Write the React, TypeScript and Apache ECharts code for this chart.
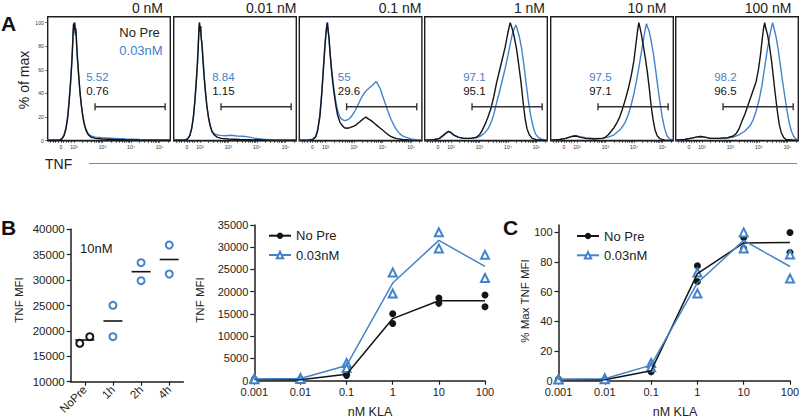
import React, { useEffect, useRef } from 'react';
import * as echarts from 'echarts';

const FONT = '"Liberation Sans", Arial, Helvetica, sans-serif';
const BLUE = '#4283cc';
const BLACK = '#141414';

// ---------- Panel A: flow histograms (x in display decades, y = % of max) ----------
const concLabels = ['0 nM', '0.01 nM', '0.1 nM', '1 nM', '10 nM', '100 nM'];
const pctPre = ['5.52', '8.84', '55', '97.1', '97.5', '98.2'];
const pctNoPre = ['0.76', '1.15', '29.6', '95.1', '97.1', '96.5'];
const histTickPos = [1.54, 2, 3, 4, 5];
const histTickText = ['0', '10²', '10³', '10⁴', '10⁵'];
const histYTicks = [0, 20, 40, 60, 80, 100];
const gateRange = [2.74, 5.2];
const gateLevel = 28.8;

const h0NoPre = [[1.08,0.5],[1.3,0.4],[1.5,0.6],[1.58,1.5],[1.65,4],[1.72,10],[1.78,19],[1.83,32],[1.88,48],[1.92,63],[1.95,78],[1.97,90],[1.99,99],[2.01,94],[2.03,100],[2.05,91],[2.07,95],[2.1,80],[2.13,68],[2.17,55],[2.21,42],[2.26,30],[2.31,21],[2.36,14],[2.42,9],[2.5,5],[2.6,3],[2.75,2],[3.0,1.5],[3.4,1],[3.8,0.8],[4.3,0.6],[4.8,0.5],[5.38,0.4]];
const h0Pre = [[1.08,0.8],[1.3,0.6],[1.5,0.8],[1.58,2],[1.65,5],[1.72,11],[1.78,21],[1.83,34],[1.88,50],[1.92,66],[1.95,80],[1.97,93],[1.99,100],[2.01,96],[2.03,98],[2.05,89],[2.07,92],[2.1,78],[2.13,66],[2.17,53],[2.21,41],[2.26,30],[2.31,21],[2.36,15],[2.42,10],[2.5,6],[2.6,4],[2.75,3],[3.0,2.5],[3.4,2],[3.8,1.5],[4.3,1],[4.8,0.8],[5.38,0.5]];
const h1NoPre = [[1.08,0.5],[1.3,0.4],[1.5,0.6],[1.57,1.5],[1.64,4],[1.71,10],[1.77,20],[1.82,33],[1.87,50],[1.91,65],[1.94,80],[1.96,92],[1.98,100],[2.0,93],[2.02,97],[2.04,88],[2.07,82],[2.1,70],[2.14,56],[2.19,42],[2.24,30],[2.3,20],[2.36,13],[2.42,8],[2.5,5],[2.6,3],[2.75,2],[3.0,1.5],[3.4,1],[3.8,0.8],[4.3,0.6],[4.8,0.5],[5.38,0.4]];
const h1Pre = [[1.08,0.8],[1.3,0.6],[1.5,0.8],[1.58,2],[1.65,5],[1.72,12],[1.78,22],[1.83,35],[1.88,52],[1.92,68],[1.95,84],[1.97,95],[1.99,100],[2.01,92],[2.03,97],[2.05,86],[2.08,80],[2.12,66],[2.16,52],[2.2,40],[2.25,28],[2.3,19],[2.36,12],[2.42,8],[2.5,6],[2.6,5],[2.7,4.5],[2.9,4.2],[3.1,4.6],[3.3,4],[3.5,3.8],[3.7,3.2],[3.9,2.2],[4.2,1.2],[4.6,0.7],[5.38,0.4]];
const h2NoPre = [[1.08,0.5],[1.4,0.5],[1.55,1],[1.65,3],[1.72,8],[1.8,20],[1.87,40],[1.93,62],[1.98,80],[2.02,92],[2.05,97],[2.07,100],[2.09,93],[2.12,88],[2.16,74],[2.2,62],[2.25,50],[2.3,40],[2.36,30],[2.42,22],[2.5,16],[2.58,13],[2.66,11],[2.75,10.5],[2.85,11],[2.95,12],[3.05,13],[3.15,15],[3.25,17],[3.35,19],[3.42,20],[3.5,18.5],[3.6,17],[3.7,15],[3.8,13],[3.9,11],[4.0,9],[4.1,7],[4.2,5],[4.3,3.5],[4.4,2.5],[4.5,1.8],[4.7,1],[5.0,0.5],[5.38,0.3]];
const h2Pre = [[1.08,0.5],[1.4,0.6],[1.55,1.2],[1.65,3.5],[1.72,9],[1.8,22],[1.87,42],[1.93,64],[1.98,82],[2.02,93],[2.05,100],[2.07,97],[2.09,95],[2.12,86],[2.16,74],[2.2,64],[2.25,53],[2.3,43],[2.36,33],[2.42,26],[2.5,20],[2.58,18],[2.66,17],[2.75,17.5],[2.85,19],[2.95,22],[3.05,26],[3.15,31],[3.25,36],[3.35,40],[3.45,43],[3.55,45],[3.65,47],[3.72,49],[3.78,50],[3.85,47],[3.92,44],[4.0,38],[4.1,31],[4.2,24],[4.3,18],[4.4,13],[4.5,9],[4.6,6],[4.7,4],[4.8,3],[5.0,1.5],[5.2,0.6],[5.38,0.3]];
const h3NoPre = [[1.08,0.5],[1.4,0.8],[1.6,2],[1.75,5],[1.85,7],[1.92,8],[2.0,7],[2.1,5],[2.25,3],[2.45,2],[2.7,2],[2.9,3],[3.0,5],[3.1,9],[3.2,14],[3.3,20],[3.4,27],[3.5,37],[3.6,49],[3.7,59],[3.8,69],[3.9,79],[3.97,88],[4.03,95],[4.08,100],[4.12,97],[4.17,93],[4.22,88],[4.3,78],[4.38,64],[4.46,49],[4.53,33],[4.6,19],[4.67,10],[4.75,5],[4.85,2],[5.0,0.8],[5.38,0.3]];
const h3Pre = [[1.08,0.5],[1.4,0.8],[1.6,2],[1.75,4.5],[1.85,6.5],[1.92,7.5],[2.0,6.5],[2.1,4.5],[2.25,3],[2.45,2],[2.7,2],[2.9,2.5],[3.0,3.5],[3.1,5],[3.2,7],[3.3,10],[3.4,15],[3.5,22],[3.6,32],[3.7,41],[3.8,51],[3.9,61],[4.0,72],[4.08,82],[4.15,90],[4.22,95],[4.28,98],[4.33,94],[4.4,88],[4.48,78],[4.56,64],[4.64,48],[4.72,33],[4.8,21],[4.88,12],[4.96,6],[5.05,3],[5.2,1],[5.38,0.4]];
const h4NoPre = [[1.08,0.5],[1.4,1],[1.6,2],[1.8,3.5],[1.95,4],[2.1,3],[2.3,2],[2.6,1.5],[2.9,2],[3.0,3],[3.1,5],[3.2,8],[3.3,11],[3.4,15],[3.5,20],[3.6,27],[3.7,35],[3.8,44],[3.85,49],[3.92,57],[4.0,68],[4.06,80],[4.12,92],[4.17,100],[4.21,96],[4.26,90],[4.33,80],[4.4,70],[4.47,58],[4.54,44],[4.6,30],[4.67,18],[4.74,9],[4.82,4],[4.92,1.5],[5.1,0.5],[5.38,0.3]];
const h4Pre = [[1.08,0.5],[1.4,1],[1.6,2],[1.8,3.5],[1.95,4.5],[2.1,3.5],[2.3,2.5],[2.6,2],[2.9,2],[3.1,3],[3.3,5],[3.5,9],[3.6,12],[3.7,16],[3.8,22],[3.9,30],[4.0,40],[4.1,52],[4.2,66],[4.28,78],[4.35,88],[4.4,95],[4.44,99],[4.48,96],[4.53,93],[4.6,85],[4.68,74],[4.76,60],[4.84,45],[4.92,31],[5.0,19],[5.08,10],[5.16,4],[5.25,1.5],[5.38,0.5]];
const h5NoPre = [[1.08,0.5],[1.4,1],[1.6,2],[1.8,3],[1.95,3.5],[2.1,3],[2.3,2],[2.6,2],[2.9,2.5],[3.1,4],[3.2,6],[3.3,10],[3.41,17],[3.5,22],[3.6,29],[3.7,36],[3.8,43],[3.9,50],[3.98,60],[4.05,72],[4.11,85],[4.16,95],[4.2,100],[4.24,95],[4.3,90],[4.37,80],[4.44,68],[4.5,55],[4.57,40],[4.64,26],[4.71,14],[4.78,7],[4.86,3],[4.95,1],[5.38,0.3]];
const h5Pre = [[1.08,0.5],[1.4,1],[1.6,2],[1.8,3],[1.95,3.5],[2.1,3],[2.3,2],[2.6,2],[2.9,2.5],[3.1,3],[3.3,5],[3.5,8],[3.7,13],[3.8,18],[3.9,25],[4.0,34],[4.1,46],[4.2,62],[4.28,75],[4.35,85],[4.42,94],[4.48,100],[4.53,95],[4.6,88],[4.67,78],[4.75,64],[4.83,50],[4.91,37],[4.98,26],[5.06,15],[5.14,8],[5.22,3.5],[5.3,1.5],[5.38,0.8]];
const histNoPre = [h0NoPre, h1NoPre, h2NoPre, h3NoPre, h4NoPre, h5NoPre];
const histPre = [h0Pre, h1Pre, h2Pre, h3Pre, h4Pre, h5Pre];

// ---------- Panel B left: pre-treatment time strip ----------
const stripCats = ['NoPre', '1h', '2h', '4h'];
const stripRepA = [17560, 25040, 33430, 36910];
const stripRepB = [18860, 18860, 29880, 31200];

// ---------- Panel B right / C: dose response ----------
const kla = [0.001, 0.01, 0.1, 1, 10, 100];
const noPreMfiA = [200, 150, 1740, 15060, 18580, 19260];
const noPreMfiB = [300, 250, 1200, 12870, 17390, 16640];
const preMfiA = [500, 600, 4000, 24320, 33350, 28290];
const preMfiB = [300, 400, 2870, 19580, 29740, 23100];
const noPrePctA = [1.0, 0.8, 7.2, 77.5, 96.6, 100];
const noPrePctB = [0.5, 0.5, 6.1, 66.9, 89.2, 86.4];
const prePctA = [1.2, 1.6, 12, 73, 100, 85.1];
const prePctB = [0.8, 1.0, 9, 58.8, 89.2, 68.9];
const pctTicks = [0, 20, 40, 60, 80, 100];

// layout constants
const HIST_LEFTS = [47.7, 173.7, 299.3, 424.7, 550.7, 675.7];
const HIST_TOP = 16.7;
const HIST_W = 122.6;
const HIST_H = 124;
const HIST_XMIN = 1.08;
const HIST_XMAX = 5.38;
const TITLE_RIGHT = [163, 296.5, 421.5, 545, 666.5, 791.5];

function histMinorTicks(): number[] {
  const t: number[] = [1.17, 1.26, 1.35, 1.45, 1.54, 1.63, 1.72, 1.81, 1.9];
  for (let d = 2; d <= 5; d++) {
    for (let k = 1; k <= 9; k++) {
      const v = Math.log10(k * Math.pow(10, d));
      if (v <= HIST_XMAX) t.push(v);
    }
  }
  return t;
}

const mean = (a: number, b: number) => (a + b) / 2;

function buildOption() {
  const grid: any[] = [];
  const xAxis: any[] = [];
  const yAxis: any[] = [];
  const series: any[] = [];
  const graphic: any[] = [];
  const axisCol = '#1e1e1e';
  const minor = histMinorTicks();

  for (let i = 0; i < 6; i++) {
    grid.push({
      left: HIST_LEFTS[i], top: HIST_TOP, width: HIST_W, height: HIST_H,
      show: true, borderColor: axisCol, borderWidth: 1.4, containLabel: false, outerBoundsMode: 'none',
    });
    xAxis.push({
      type: 'value', gridIndex: i, min: HIST_XMIN, max: HIST_XMAX,
      axisLine: { show: true, onZero: false, lineStyle: { color: axisCol, width: 1.4 } },
      axisTick: { show: true, customValues: minor, length: 2.2, lineStyle: { color: '#222', width: 0.7 } },
      axisLabel: {
        show: true, customValues: histTickPos, fontSize: 5, color: '#333', margin: 3.5, fontFamily: FONT,
        formatter: (v: number) => {
          const k = histTickPos.findIndex((p) => Math.abs(p - v) < 1e-6);
          return k >= 0 ? histTickText[k] : '';
        },
      },
      splitLine: { show: false },
    });
    yAxis.push({
      type: 'value', gridIndex: i, min: 0, max: 105,
      axisLine: { show: false },
      axisTick: { show: i === 0, customValues: histYTicks, length: 2.5, lineStyle: { color: '#222', width: 0.7 } },
      axisLabel: { show: i === 0, customValues: histYTicks, fontSize: 5, margin: 4, color: '#333', fontFamily: FONT },
      splitLine: { show: false },
    });
    series.push({
      type: 'line', xAxisIndex: i, yAxisIndex: i, data: histPre[i], showSymbol: false, symbol: 'none',
      lineStyle: { color: BLUE, width: 1.4 }, silent: true,
    });
    series.push({
      type: 'line', xAxisIndex: i, yAxisIndex: i, data: histNoPre[i], showSymbol: false, symbol: 'none',
      lineStyle: { color: BLACK, width: 1.4 }, silent: true,
    });
    series.push({
      type: 'line', xAxisIndex: i, yAxisIndex: i,
      data: [[gateRange[0], gateLevel], [gateRange[1], gateLevel]],
      symbol: 'rect', symbolSize: [1.4, 7], showSymbol: true,
      lineStyle: { color: '#333', width: 1.6 }, itemStyle: { color: '#333' }, silent: true,
    });
    graphic.push({
      type: 'text', x: TITLE_RIGHT[i], y: 8,
      style: { text: concLabels[i], fontSize: 14, fontFamily: FONT, fill: '#222', align: 'right', verticalAlign: 'middle' },
    });
    graphic.push({
      type: 'text', x: HIST_LEFTS[i] + 38.5, y: 76.7,
      style: { text: pctPre[i], fontSize: 11.5, fontFamily: FONT, fill: BLUE, align: 'left', verticalAlign: 'middle' },
    });
    graphic.push({
      type: 'text', x: HIST_LEFTS[i] + 38.5, y: 90.7,
      style: { text: pctNoPre[i], fontSize: 11.5, fontFamily: FONT, fill: BLACK, align: 'left', verticalAlign: 'middle' },
    });
  }

  const lineAxis = (extra: any) => ({
    axisLine: { show: true, onZero: false, lineStyle: { color: axisCol, width: 1.5 } },
    axisTick: { show: true, length: 4, lineStyle: { color: axisCol, width: 1.2 } },
    splitLine: { show: false },
    ...extra,
  });

  // ---- B left (grid 6)
  grid.push({ left: 70.7, top: 229.3, width: 112.6, height: 152.4, containLabel: false, outerBoundsMode: 'none' });
  xAxis.push(lineAxis({
    type: 'category', gridIndex: 6, data: stripCats, boundaryGap: true,
    axisTick: { show: true, alignWithLabel: true, length: 4, lineStyle: { color: axisCol, width: 1.2 } },
    axisLabel: { interval: 0, rotate: 45, fontSize: 11.5, margin: 6, color: '#222', fontFamily: FONT },
  }));
  yAxis.push(lineAxis({
    type: 'value', gridIndex: 6, min: 10000, max: 40000, interval: 5000,
    axisLabel: { fontSize: 11.5, margin: 6, color: '#222', fontFamily: FONT, formatter: (v: number) => String(v) },
  }));
  series.push({
    type: 'scatter', xAxisIndex: 6, yAxisIndex: 6, symbol: 'rect', symbolSize: [19, 1.6],
    itemStyle: { color: BLACK, opacity: 1 }, silent: true,
    data: stripCats.map((c, i) => [c, mean(stripRepA[i], stripRepB[i])]),
  });
  const stripPts: any[] = [];
  stripCats.forEach((c, i) => {
    const col = i === 0 ? BLACK : BLUE;
    stripPts.push({ value: [c, stripRepA[i]], symbolOffset: i === 0 ? [-5, 0] : [0, 0], itemStyle: { color: col, borderColor: col } });
    stripPts.push({ value: [c, stripRepB[i]], symbolOffset: i === 0 ? [5, 0] : [0, 0], itemStyle: { color: col, borderColor: col } });
  });
  series.push({
    type: 'scatter', xAxisIndex: 6, yAxisIndex: 6, symbol: 'emptyCircle', symbolSize: 7,
    itemStyle: { borderWidth: 1.6, opacity: 1 }, data: stripPts,
  });

  // ---- B right (grid 7) and C (grid 8)
  const fmtLog = (v: number) => String(+Number(v).toPrecision(6));
  grid.push({ left: 254.3, top: 225, width: 230.7, height: 155.7, containLabel: false, outerBoundsMode: 'none' });
  grid.push({ left: 558.5, top: 225, width: 231.5, height: 155.7, containLabel: false, outerBoundsMode: 'none' });
  for (const g of [7, 8]) {
    xAxis.push(lineAxis({
      type: 'log', logBase: 10, gridIndex: g, min: 0.001, max: 100,
      axisLabel: { fontSize: 11, margin: 6, color: '#222', fontFamily: FONT, formatter: fmtLog },
      minorTick: { show: false },
    }));
  }
  yAxis.push(lineAxis({
    type: 'value', gridIndex: 7, min: 0, max: 35000, interval: 5000,
    axisLabel: { fontSize: 11, margin: 6, color: '#222', fontFamily: FONT, formatter: (v: number) => String(v) },
  }));
  yAxis.push(lineAxis({
    type: 'value', gridIndex: 8, min: 0, max: 105,
    axisTick: { show: true, customValues: pctTicks, length: 4, lineStyle: { color: axisCol, width: 1.2 } },
    axisLabel: { customValues: pctTicks, fontSize: 11, margin: 6, color: '#222', fontFamily: FONT },
  }));

  const doseSets = [
    { g: 7, nA: noPreMfiA, nB: noPreMfiB, pA: preMfiA, pB: preMfiB },
    { g: 8, nA: noPrePctA, nB: noPrePctB, pA: prePctA, pB: prePctB },
  ];
  for (const s of doseSets) {
    series.push({
      type: 'line', name: 'No Pre', xAxisIndex: s.g, yAxisIndex: s.g,
      data: kla.map((x, i) => [x, mean(s.nA[i], s.nB[i])]),
      symbol: 'circle', symbolSize: 7, showSymbol: false,
      lineStyle: { color: BLACK, width: 1.5 }, itemStyle: { color: BLACK },
    });
    series.push({
      type: 'line', name: '0.03nM', xAxisIndex: s.g, yAxisIndex: s.g,
      data: kla.map((x, i) => [x, mean(s.pA[i], s.pB[i])]),
      symbol: 'emptyTriangle', symbolSize: 8, showSymbol: false,
      lineStyle: { color: BLUE, width: 1.5 }, itemStyle: { color: BLUE, borderWidth: 1.3 },
    });
  }
  for (const s of doseSets) {
    series.push({
      type: 'scatter', name: 'No Pre', xAxisIndex: s.g, yAxisIndex: s.g,
      data: [...kla.map((x, i) => [x, s.nA[i]]), ...kla.map((x, i) => [x, s.nB[i]])],
      symbol: 'circle', symbolSize: 7, itemStyle: { color: BLACK, opacity: 1 },
    });
    series.push({
      type: 'scatter', name: '0.03nM', xAxisIndex: s.g, yAxisIndex: s.g,
      data: [...kla.map((x, i) => [x, s.pA[i]]), ...kla.map((x, i) => [x, s.pB[i]])],
      symbol: 'emptyTriangle', symbolSize: 8, itemStyle: { color: BLUE, borderWidth: 1.3, opacity: 1 },
    });
  }

  const legendBase = {
    data: ['No Pre', '0.03nM'], orient: 'vertical', itemWidth: 22, itemHeight: 8, itemGap: 5.3,
    selectedMode: false, padding: 0,
    textStyle: { fontSize: 13, fontFamily: FONT, color: '#222', lineHeight: 14 },
  };
  const legend = [
    { ...legendBase, left: 268, top: 228.7 },
    { ...legendBase, left: 576, top: 229 },
  ];

  const txt = (text: string, x: number, y: number, o: any = {}) => ({
    type: 'text', x, y, rotation: o.rotation || 0,
    style: {
      text, fontSize: o.fontSize || 13, fontFamily: FONT, fill: o.fill || '#222',
      fontWeight: o.fontWeight || 'normal', align: o.align || 'left', verticalAlign: 'middle',
    },
  });

  graphic.push(
    txt('A', 1, 23, { fontSize: 21, fontWeight: 'bold', fill: '#111' }),
    txt('No Pre', 119.3, 32.3, { fontSize: 13 }),
    txt('0.03nM', 119.3, 50.7, { fontSize: 13, fill: BLUE }),
    txt('% of max', 24, 80, { fontSize: 14, align: 'center', rotation: Math.PI / 2 }),
    txt('TNF', 45, 163.5, { fontSize: 14 }),
    { type: 'line', shape: { x1: 89, y1: 163.5, x2: 797, y2: 163.5 }, style: { stroke: '#8a8a8a', lineWidth: 1 } },
    txt('B', 1, 227, { fontSize: 21, fontWeight: 'bold', fill: '#111' }),
    txt('10nM', 80, 248.3, { fontSize: 13 }),
    txt('TNF MFI', 18.5, 300, { fontSize: 11.5, align: 'center', rotation: Math.PI / 2 }),
    txt('TNF MFI', 200, 300, { fontSize: 11.5, align: 'center', rotation: Math.PI / 2 }),
    txt('nM KLA', 370, 411.7, { fontSize: 12.5, align: 'center' }),
    txt('C', 503, 227.5, { fontSize: 21, fontWeight: 'bold', fill: '#111' }),
    txt('% Max TNF MFI', 525, 301, { fontSize: 11.5, align: 'center', rotation: Math.PI / 2 }),
    txt('nM KLA', 675, 411.7, { fontSize: 12.5, align: 'center' }),
  );

  return {
    animation: false,
    backgroundColor: '#ffffff',
    textStyle: { fontFamily: FONT },
    grid, xAxis, yAxis, series, legend, graphic,
  };
}

export default function App() {
  const ref = useRef<HTMLDivElement>(null);
  useEffect(() => {
    const chart = echarts.init(ref.current!, null, { renderer: 'svg' });
    chart.setOption(buildOption() as any);
    return () => chart.dispose();
  }, []);
  return <div ref={ref} style={{ position: 'absolute', left: 0, top: 0, width: 800, height: 418 }} />;
}
